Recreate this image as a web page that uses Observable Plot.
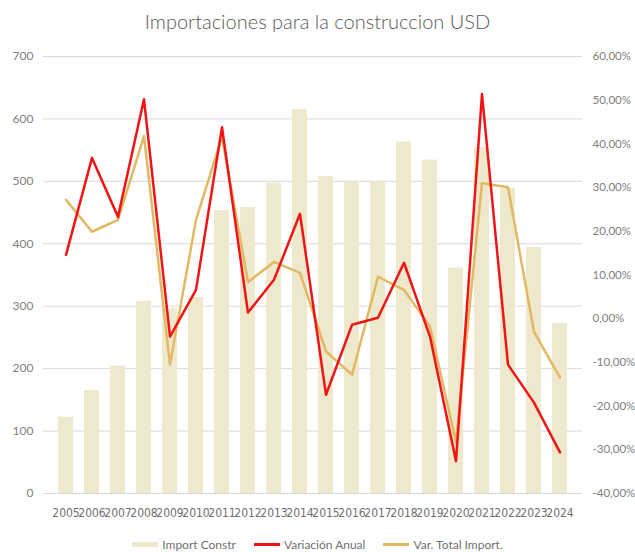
<!DOCTYPE html>
<html>
<head>
<meta charset="utf-8">
<script src="https://cdn.jsdelivr.net/npm/d3@7"></script>
<script src="https://cdn.jsdelivr.net/npm/@observablehq/plot@0.6"></script>
<style>
  body { margin: 0; background: #fff; font-family: Lato, "Open Sans", sans-serif; }
  #title { height: 40px; line-height: 42px; text-align: center; font-size: 20px; color: #595959; font-weight: 300; }
  #legend { display: flex; justify-content: center; align-items: center; gap: 18px; font-size: 12px; color: #707070; margin-top: 7px; }
  #legend .item { display: flex; align-items: center; gap: 4px; }
  #legend .sw { width: 26px; height: 5px; display: inline-block; }
  #legend .ln { width: 26px; height: 3px; display: inline-block; }
</style>
</head>
<body>
<div id="title">Importaciones para la construccion USD</div>
<div id="chart"></div>
<div id="legend"></div>
<script>
const years = ["2005","2006","2007","2008","2009","2010","2011","2012","2013","2014","2015","2016","2017","2018","2019","2020","2021","2022","2023","2024"];
const importConstr = [122,165,204,308,296,314,453,458,497,615,508,499,499,563,534,361,554,489,394,272];
const variacionAnual = [14.6,36.8,23.3,50.2,-4.1,6.6,43.8,1.4,8.9,24.0,-17.4,-1.4,0.2,12.8,-4.1,-32.6,51.4,-10.5,-19.2,-30.6];
const varTotalImport = [27.2,19.9,22.6,41.8,-10.5,22.6,41.6,8.4,13.0,10.5,-7.5,-12.8,9.6,6.6,-1.8,-28.3,31.0,30.1,-3.0,-13.5];
const leftTicks = [0,100,200,300,400,500,600,700];
const rightTicks = [-40,-30,-20,-10,0,10,20,30,40,50,60];

const seriesNames = ["Import Constr", "Variación Anual", "Var. Total Import."];
const colors = ["#EEE8CC", "#F01414", "#E2B862"];

// map percent axis (-40..60) onto the left axis (0..700)
const pctToLeft = p => (p + 40) * 7;

const table = years.map((y, i) => ({year: y, imp: importConstr[i], va: variacionAnual[i], vt: varTotalImport[i]}));

const fmtPct = v => {
  const p = v / 7 - 40;
  return p.toFixed(2).replace(".", ",") + "%";
};

const chart = Plot.plot({
  width: 635,
  height: 490,
  marginTop: 16,
  marginBottom: 37,
  marginLeft: 43,
  marginRight: 53,
  style: {fontFamily: "Lato, 'Open Sans', sans-serif", fontSize: "12px", color: "#808080", background: "#fff"},
  x: {type: "band", domain: years, padding: 0.44, label: null},
  y: {domain: [0, 700], label: null},
  marks: [
    Plot.ruleY(leftTicks, {stroke: "#d9d9d9", strokeWidth: 1}),
    Plot.barY(table, {x: "year", y: "imp", fill: colors[0]}),
    Plot.line(table, {x: "year", y: d => pctToLeft(d.vt), stroke: colors[2], strokeWidth: 2.5}),
    Plot.line(table, {x: "year", y: d => pctToLeft(d.va), stroke: colors[1], strokeWidth: 2.5}),
    Plot.axisY({ticks: leftTicks, tickSize: 0, tickPadding: 10, label: null, fill: "#808080"}),
    Plot.axisY({anchor: "right", ticks: rightTicks.map(pctToLeft), tickFormat: fmtPct, tickSize: 0, tickPadding: 10, label: null, fill: "#808080", fontSize: 11.5}),
    Plot.axisX({tickSize: 0, tickPadding: 15, label: null, fill: "#707070", fontFamily: "'Liberation Sans Narrow', 'DejaVu Sans Condensed', sans-serif", fontSize: 12})
  ]
});
document.getElementById("chart").appendChild(chart);

const legend = document.getElementById("legend");
seriesNames.forEach((name, i) => {
  const item = document.createElement("div");
  item.className = "item";
  const sw = document.createElement("span");
  sw.className = i === 0 ? "sw" : "ln";
  sw.style.background = colors[i];
  const t = document.createElement("span");
  t.textContent = name;
  item.appendChild(sw);
  item.appendChild(t);
  legend.appendChild(item);
});
</script>
</body>
</html>
